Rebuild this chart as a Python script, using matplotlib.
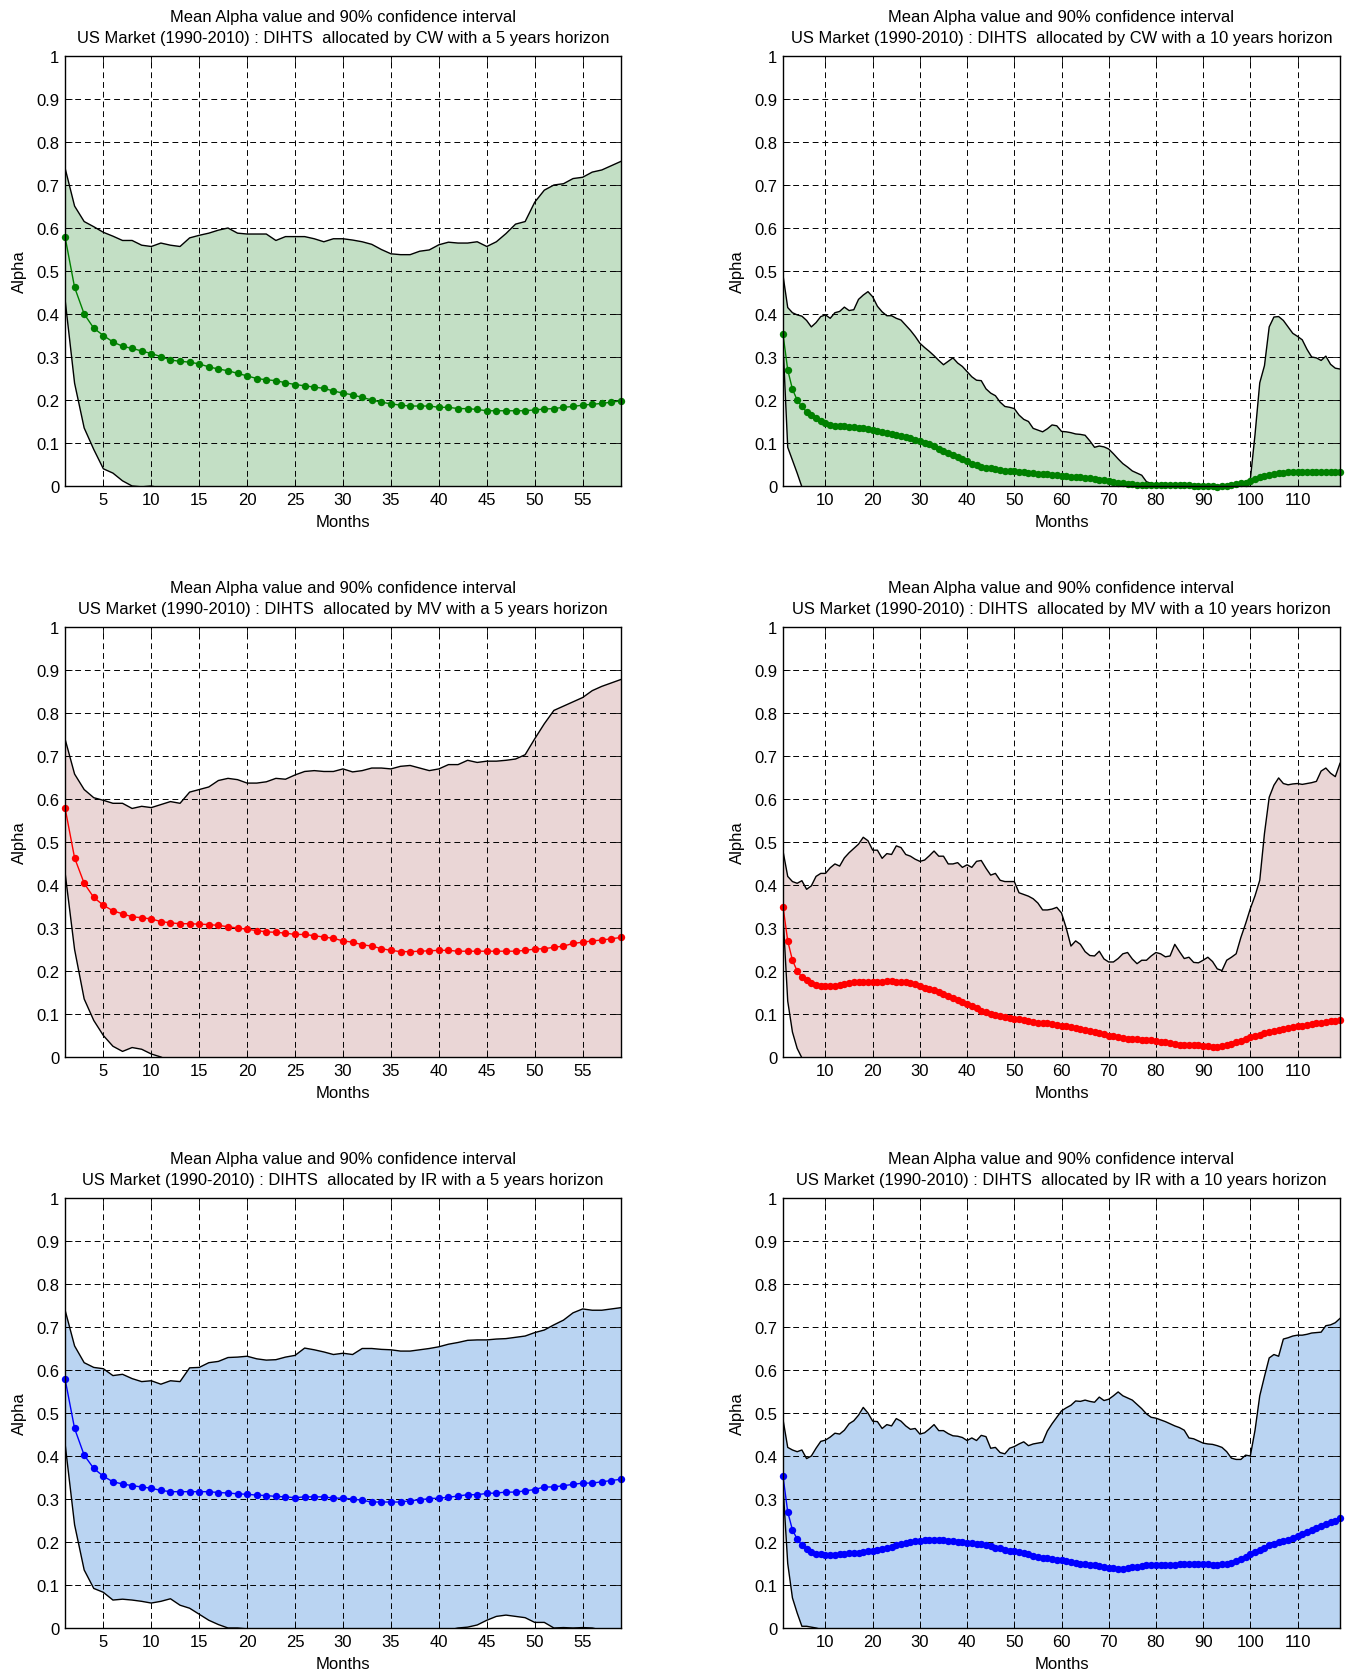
import matplotlib
matplotlib.use('Agg')
import matplotlib.pyplot as plt
import numpy as np

plt.rcParams['font.family'] = ['Liberation Sans', 'DejaVu Sans']

# ---------------- data ----------------
months_5y = list(range(1, 60))
months_10y = list(range(1, 120))
xticks_5y = [5, 10, 15, 20, 25, 30, 35, 40, 45, 50, 55]
xticks_10y = [10, 20, 30, 40, 50, 60, 70, 80, 90, 100, 110]
yticks = [0, 0.1, 0.2, 0.3, 0.4, 0.5, 0.6, 0.7, 0.8, 0.9, 1]
ytick_labels = ['0', '0.1', '0.2', '0.3', '0.4', '0.5', '0.6', '0.7', '0.8', '0.9', '1']

title_line1 = 'Mean Alpha value and 90% confidence interval'
titles_line2 = [
    'US Market (1990-2010) : DIHTS  allocated by CW with a 5 years horizon',
    'US Market (1990-2010) : DIHTS  allocated by CW with a 10 years horizon',
    'US Market (1990-2010) : DIHTS  allocated by MV with a 5 years horizon',
    'US Market (1990-2010) : DIHTS  allocated by MV with a 10 years horizon',
    'US Market (1990-2010) : DIHTS  allocated by IR with a 5 years horizon',
    'US Market (1990-2010) : DIHTS  allocated by IR with a 10 years horizon',
]

# ---- CW, 5 years ----
cw5_mean = [0.58, 0.462, 0.40, 0.367, 0.35, 0.335, 0.325, 0.32, 0.314, 0.308,
            0.301, 0.293, 0.29, 0.288, 0.284, 0.277, 0.272, 0.268, 0.262, 0.256,
            0.25, 0.247, 0.245, 0.24, 0.236, 0.233, 0.23, 0.227, 0.221, 0.216,
            0.212, 0.206, 0.2, 0.195, 0.191, 0.188, 0.186, 0.186, 0.186, 0.183,
            0.183, 0.18, 0.18, 0.178, 0.175, 0.175, 0.175, 0.175, 0.175, 0.177,
            0.179, 0.18, 0.183, 0.185, 0.188, 0.19, 0.192, 0.195, 0.198]
cw5_upper = [0.74, 0.651, 0.615, 0.603, 0.59, 0.581, 0.571, 0.571, 0.56, 0.557,
             0.565, 0.56, 0.557, 0.577, 0.583, 0.588, 0.595, 0.600, 0.588, 0.586,
             0.586, 0.586, 0.571, 0.58, 0.58, 0.58, 0.575, 0.568, 0.575, 0.575,
             0.572, 0.568, 0.562, 0.55, 0.54, 0.538, 0.538, 0.546, 0.549, 0.561,
             0.567, 0.565, 0.565, 0.568, 0.557, 0.568, 0.587, 0.609, 0.615, 0.66,
             0.688, 0.70, 0.703, 0.715, 0.718, 0.73, 0.735, 0.745, 0.755]
cw5_lower = [0.435, 0.239, 0.135, 0.085, 0.04, 0.03, 0.012, 0.0, -0.002, 0.0,
             -0.005, -0.02, -0.03, -0.04, -0.05, -0.05, -0.05, -0.05, -0.05, -0.05,
             -0.05, -0.05, -0.05, -0.05, -0.05, -0.05, -0.05, -0.05, -0.05, -0.05,
             -0.05, -0.05, -0.05, -0.05, -0.05, -0.05, -0.05, -0.05, -0.05, -0.05,
             -0.05, -0.05, -0.05, -0.05, -0.05, -0.05, -0.05, -0.05, -0.05, -0.05,
             -0.05, -0.05, -0.05, -0.05, -0.05, -0.05, -0.05, -0.05, -0.05]

# ---- MV, 5 years ----
mv5_mean = [0.58, 0.463, 0.404, 0.371, 0.353, 0.34, 0.333, 0.326, 0.324, 0.321,
            0.315, 0.312, 0.31, 0.31, 0.309, 0.308, 0.306, 0.303, 0.3, 0.297,
            0.294, 0.291, 0.29, 0.288, 0.285, 0.285, 0.282, 0.279, 0.276, 0.27,
            0.267, 0.261, 0.258, 0.252, 0.248, 0.245, 0.245, 0.246, 0.247, 0.248,
            0.248, 0.246, 0.246, 0.246, 0.246, 0.246, 0.246, 0.246, 0.248, 0.251,
            0.252, 0.255, 0.258, 0.264, 0.267, 0.27, 0.272, 0.275, 0.278]
mv5_upper = [0.74, 0.658, 0.622, 0.603, 0.597, 0.59, 0.59, 0.578, 0.583, 0.58,
             0.587, 0.594, 0.59, 0.616, 0.622, 0.628, 0.643, 0.648, 0.645, 0.637,
             0.637, 0.64, 0.648, 0.646, 0.656, 0.664, 0.666, 0.664, 0.664, 0.67,
             0.663, 0.666, 0.672, 0.672, 0.67, 0.676, 0.678, 0.672, 0.666, 0.67,
             0.68, 0.68, 0.69, 0.685, 0.688, 0.688, 0.69, 0.693, 0.703, 0.74,
             0.775, 0.806, 0.816, 0.826, 0.836, 0.852, 0.862, 0.87, 0.878]
mv5_lower = [0.43, 0.25, 0.135, 0.085, 0.05, 0.025, 0.013, 0.022, 0.018, 0.007,
             0.0, -0.01, -0.02, -0.03, -0.04, -0.05, -0.05, -0.05, -0.05, -0.05,
             -0.05, -0.05, -0.05, -0.05, -0.05, -0.05, -0.05, -0.05, -0.05, -0.05,
             -0.05, -0.05, -0.05, -0.05, -0.05, -0.05, -0.05, -0.05, -0.05, -0.05,
             -0.05, -0.05, -0.05, -0.05, -0.05, -0.05, -0.05, -0.05, -0.05, -0.05,
             -0.05, -0.05, -0.05, -0.05, -0.05, -0.05, -0.05, -0.05, -0.05]

# ---- IR, 5 years ----
ir5_mean = [0.58, 0.464, 0.402, 0.371, 0.353, 0.34, 0.335, 0.331, 0.328, 0.325,
            0.32, 0.317, 0.317, 0.317, 0.317, 0.317, 0.315, 0.314, 0.312, 0.311,
            0.309, 0.308, 0.306, 0.305, 0.303, 0.305, 0.305, 0.305, 0.302, 0.302,
            0.3, 0.297, 0.293, 0.293, 0.293, 0.293, 0.296, 0.298, 0.301, 0.302,
            0.304, 0.307, 0.31, 0.31, 0.313, 0.314, 0.316, 0.316, 0.319, 0.322,
            0.328, 0.328, 0.331, 0.334, 0.337, 0.337, 0.34, 0.343, 0.346]
ir5_upper = [0.74, 0.656, 0.617, 0.606, 0.603, 0.587, 0.59, 0.58, 0.573, 0.575,
             0.567, 0.575, 0.573, 0.605, 0.606, 0.617, 0.62, 0.629, 0.63, 0.632,
             0.626, 0.623, 0.624, 0.63, 0.634, 0.651, 0.647, 0.642, 0.636, 0.639,
             0.636, 0.65, 0.65, 0.648, 0.647, 0.644, 0.644, 0.647, 0.65, 0.654,
             0.66, 0.664, 0.669, 0.67, 0.67, 0.672, 0.673, 0.676, 0.679, 0.687,
             0.693, 0.705, 0.716, 0.733, 0.742, 0.739, 0.739, 0.742, 0.745]
ir5_lower = [0.43, 0.24, 0.135, 0.092, 0.083, 0.065, 0.067, 0.065, 0.062, 0.058,
             0.062, 0.068, 0.053, 0.046, 0.032, 0.018, 0.008, 0.0, 0.0, -0.002,
             -0.01, -0.01, -0.01, -0.01, -0.01, -0.01, -0.01, -0.01, -0.01, -0.01,
             -0.01, -0.01, -0.01, -0.01, -0.01, -0.01, -0.01, -0.01, -0.01, -0.01,
             -0.005, 0.0, 0.002, 0.007, 0.018, 0.027, 0.03, 0.027, 0.024, 0.013,
             0.013, 0.0, 0.001, 0.0, 0.001, 0.0, -0.005, -0.01, -0.01]

# ---- CW, 10 years ----
cw10_mean = [0.353, 0.27, 0.225, 0.2, 0.185, 0.172, 0.165, 0.158, 0.152, 0.147,
             0.143, 0.14, 0.139, 0.139, 0.138, 0.137, 0.135, 0.134, 0.132, 0.13,
             0.128, 0.126, 0.123, 0.12, 0.118, 0.116, 0.114, 0.111, 0.108, 0.104,
             0.1, 0.097, 0.092, 0.087, 0.082, 0.077, 0.073, 0.068, 0.062, 0.057,
             0.052, 0.048, 0.045, 0.043, 0.041, 0.039, 0.037, 0.035, 0.034, 0.034,
             0.033, 0.032, 0.031, 0.03, 0.029, 0.028, 0.027, 0.026, 0.025, 0.024,
             0.023, 0.022, 0.021, 0.02, 0.019, 0.018, 0.017, 0.015, 0.013, 0.011,
             0.009, 0.008, 0.006, 0.005, 0.004, 0.003, 0.002, 0.002, 0.002, 0.002,
             0.002, 0.002, 0.002, 0.002, 0.002, 0.002, 0.002, 0.001, 0.001, 0.001,
             0.0, -0.001, -0.002, -0.001, 0.001, 0.003, 0.005, 0.006, 0.008, 0.012,
             0.016, 0.02, 0.023, 0.026, 0.028, 0.03, 0.031, 0.033, 0.033, 0.033,
             0.033, 0.033, 0.033, 0.033, 0.033, 0.033, 0.033, 0.033, 0.033]
cw10_upper = [0.49, 0.415, 0.403, 0.398, 0.395, 0.385, 0.37, 0.38, 0.394, 0.398,
              0.39, 0.403, 0.406, 0.416, 0.408, 0.41, 0.434, 0.444, 0.452, 0.44,
              0.418, 0.405, 0.396, 0.396, 0.39, 0.386, 0.374, 0.362, 0.348, 0.332,
              0.322, 0.313, 0.303, 0.292, 0.282, 0.29, 0.298, 0.286, 0.278, 0.266,
              0.254, 0.246, 0.245, 0.226, 0.216, 0.21, 0.195, 0.185, 0.183, 0.18,
              0.165, 0.155, 0.15, 0.134, 0.13, 0.126, 0.133, 0.142, 0.14, 0.127,
              0.126, 0.124, 0.121, 0.12, 0.118, 0.105, 0.09, 0.093, 0.091, 0.086,
              0.075, 0.063, 0.052, 0.044, 0.035, 0.03, 0.025, 0.01, 0.006, 0.003,
              0.002, 0.002, 0.002, 0.002, 0.002, 0.002, 0.002, 0.002, 0.002, 0.002,
              0.001, 0.0, -0.001, 0.0, 0.002, 0.004, 0.006, 0.007, 0.008, 0.015,
              0.12, 0.24, 0.28, 0.37, 0.393, 0.394, 0.385, 0.37, 0.355, 0.348,
              0.34, 0.318, 0.3, 0.298, 0.292, 0.302, 0.283, 0.274, 0.272]
cw10_lower = [0.33, 0.09, 0.06, 0.03, -0.002, -0.02, -0.04, -0.05, -0.05, -0.05,
              -0.05, -0.05, -0.05, -0.05, -0.05, -0.05, -0.05, -0.05, -0.05, -0.05,
              -0.05, -0.05, -0.05, -0.05, -0.05, -0.05, -0.05, -0.05, -0.05, -0.05,
              -0.05, -0.05, -0.05, -0.05, -0.05, -0.05, -0.05, -0.05, -0.05, -0.05,
              -0.05, -0.05, -0.05, -0.05, -0.05, -0.05, -0.05, -0.05, -0.05, -0.05,
              -0.05, -0.05, -0.05, -0.05, -0.05, -0.05, -0.05, -0.05, -0.05, -0.05,
              -0.05, -0.05, -0.05, -0.05, -0.05, -0.05, -0.05, -0.05, -0.05, -0.05,
              -0.05, -0.05, -0.05, -0.05, -0.05, -0.05, -0.05, -0.05, -0.05, -0.05,
              -0.05, -0.05, -0.05, -0.05, -0.05, -0.05, -0.05, -0.05, -0.05, -0.05,
              -0.05, -0.05, -0.05, -0.05, -0.05, -0.05, -0.05, -0.05, -0.05, -0.05,
              -0.05, -0.05, -0.05, -0.05, -0.05, -0.05, -0.05, -0.05, -0.05, -0.05,
              -0.05, -0.05, -0.05, -0.05, -0.05, -0.05, -0.05, -0.05, -0.05]

# ---- MV, 10 years ----
mv10_mean = [0.35, 0.27, 0.225, 0.2, 0.186, 0.178, 0.172, 0.168, 0.166, 0.165,
             0.165, 0.165, 0.167, 0.17, 0.172, 0.174, 0.175, 0.175, 0.175, 0.175,
             0.175, 0.175, 0.176, 0.176, 0.175, 0.175, 0.174, 0.172, 0.169, 0.165,
             0.161, 0.158, 0.155, 0.151, 0.147, 0.142, 0.138, 0.133, 0.128, 0.124,
             0.118, 0.113, 0.108, 0.104, 0.101, 0.098, 0.096, 0.093, 0.091, 0.089,
             0.088, 0.086, 0.084, 0.082, 0.08, 0.079, 0.078, 0.077, 0.075, 0.073,
             0.071, 0.069, 0.067, 0.065, 0.063, 0.061, 0.058, 0.056, 0.053, 0.05,
             0.049, 0.047, 0.045, 0.043, 0.042, 0.041, 0.04, 0.04, 0.039, 0.038,
             0.036, 0.034, 0.032, 0.03, 0.029, 0.028, 0.027, 0.027, 0.027, 0.026,
             0.025, 0.024, 0.024, 0.025, 0.027, 0.03, 0.034, 0.038, 0.042, 0.046,
             0.049, 0.052, 0.055, 0.058, 0.061, 0.063, 0.066, 0.068, 0.07, 0.072,
             0.073, 0.075, 0.076, 0.078, 0.08, 0.081, 0.083, 0.084, 0.086]
mv10_upper = [0.479, 0.42, 0.408, 0.404, 0.41, 0.39, 0.398, 0.42, 0.427, 0.427,
              0.44, 0.449, 0.444, 0.463, 0.475, 0.485, 0.495, 0.511, 0.503, 0.481,
              0.481, 0.462, 0.473, 0.471, 0.491, 0.487, 0.471, 0.467, 0.46, 0.455,
              0.458, 0.468, 0.479, 0.467, 0.467, 0.449, 0.449, 0.452, 0.441, 0.447,
              0.441, 0.455, 0.457, 0.439, 0.423, 0.427, 0.411, 0.408, 0.408, 0.408,
              0.382, 0.378, 0.374, 0.368, 0.358, 0.342, 0.342, 0.344, 0.348, 0.335,
              0.3, 0.258, 0.27, 0.262, 0.245, 0.236, 0.235, 0.246, 0.228, 0.221,
              0.221, 0.229, 0.24, 0.243, 0.228, 0.217, 0.225, 0.225, 0.235, 0.243,
              0.24, 0.233, 0.235, 0.262, 0.245, 0.229, 0.232, 0.22, 0.219, 0.225,
              0.232, 0.222, 0.205, 0.201, 0.225, 0.232, 0.24, 0.278, 0.31, 0.345,
              0.375, 0.411, 0.52, 0.604, 0.632, 0.649, 0.636, 0.633, 0.635, 0.636,
              0.634, 0.636, 0.638, 0.641, 0.665, 0.672, 0.66, 0.652, 0.683]
mv10_lower = [0.33, 0.13, 0.058, 0.02, -0.002, -0.02, -0.04, -0.05, -0.05, -0.05,
              -0.05, -0.05, -0.05, -0.05, -0.05, -0.05, -0.05, -0.05, -0.05, -0.05,
              -0.05, -0.05, -0.05, -0.05, -0.05, -0.05, -0.05, -0.05, -0.05, -0.05,
              -0.05, -0.05, -0.05, -0.05, -0.05, -0.05, -0.05, -0.05, -0.05, -0.05,
              -0.05, -0.05, -0.05, -0.05, -0.05, -0.05, -0.05, -0.05, -0.05, -0.05,
              -0.05, -0.05, -0.05, -0.05, -0.05, -0.05, -0.05, -0.05, -0.05, -0.05,
              -0.05, -0.05, -0.05, -0.05, -0.05, -0.05, -0.05, -0.05, -0.05, -0.05,
              -0.05, -0.05, -0.05, -0.05, -0.05, -0.05, -0.05, -0.05, -0.05, -0.05,
              -0.05, -0.05, -0.05, -0.05, -0.05, -0.05, -0.05, -0.05, -0.05, -0.05,
              -0.05, -0.05, -0.05, -0.05, -0.05, -0.05, -0.05, -0.05, -0.05, -0.05,
              -0.05, -0.05, -0.05, -0.05, -0.05, -0.05, -0.05, -0.05, -0.05, -0.05,
              -0.05, -0.05, -0.05, -0.05, -0.05, -0.05, -0.05, -0.05, -0.05]

# ---- IR, 10 years ----
ir10_mean = [0.353, 0.27, 0.228, 0.207, 0.193, 0.183, 0.177, 0.173, 0.171, 0.17,
             0.17, 0.17, 0.172, 0.173, 0.174, 0.175, 0.175, 0.177, 0.178, 0.179,
             0.181, 0.184, 0.187, 0.189, 0.192, 0.195, 0.198, 0.2, 0.202, 0.203,
             0.204, 0.205, 0.205, 0.205, 0.204, 0.203, 0.202, 0.2, 0.199, 0.198,
             0.197, 0.196, 0.195, 0.193, 0.19, 0.187, 0.185, 0.182, 0.18, 0.178,
             0.176, 0.174, 0.171, 0.168, 0.165, 0.163, 0.162, 0.161, 0.159, 0.157,
             0.155, 0.153, 0.152, 0.15, 0.149, 0.147, 0.146, 0.144, 0.142, 0.14,
             0.139, 0.138, 0.138, 0.139, 0.141, 0.143, 0.145, 0.146, 0.147, 0.147,
             0.147, 0.147, 0.147, 0.147, 0.148, 0.149, 0.148, 0.148, 0.148, 0.149,
             0.148, 0.147, 0.147, 0.148, 0.15, 0.152, 0.155, 0.16, 0.166, 0.172,
             0.177, 0.182, 0.187, 0.192, 0.196, 0.199, 0.202, 0.205, 0.209, 0.214,
             0.219, 0.224, 0.229, 0.233, 0.237, 0.242, 0.246, 0.25, 0.256]
ir10_upper = [0.485, 0.42, 0.414, 0.41, 0.414, 0.394, 0.4, 0.418, 0.434, 0.437,
              0.444, 0.453, 0.451, 0.46, 0.475, 0.482, 0.495, 0.513, 0.5, 0.481,
              0.48, 0.464, 0.473, 0.47, 0.487, 0.481, 0.47, 0.462, 0.464, 0.451,
              0.454, 0.463, 0.473, 0.459, 0.459, 0.452, 0.447, 0.446, 0.443, 0.436,
              0.442, 0.436, 0.448, 0.445, 0.418, 0.42, 0.408, 0.405, 0.418, 0.422,
              0.428, 0.433, 0.424, 0.428, 0.43, 0.432, 0.458, 0.475, 0.49, 0.505,
              0.512, 0.518, 0.528, 0.527, 0.53, 0.527, 0.525, 0.537, 0.529, 0.532,
              0.54, 0.549, 0.54, 0.535, 0.53, 0.52, 0.51, 0.498, 0.49, 0.488,
              0.484, 0.48, 0.475, 0.47, 0.466, 0.46, 0.442, 0.44, 0.435, 0.43,
              0.428, 0.427, 0.424, 0.42, 0.41, 0.395, 0.392, 0.392, 0.402, 0.4,
              0.46, 0.54, 0.585, 0.628, 0.636, 0.632, 0.672, 0.675, 0.679, 0.681,
              0.681, 0.683, 0.686, 0.687, 0.688, 0.703, 0.705, 0.71, 0.72]
ir10_lower = [0.33, 0.15, 0.07, 0.035, 0.004, 0.004, 0.002, 0.0, -0.003, -0.01,
              -0.02, -0.03, -0.04, -0.05, -0.05, -0.05, -0.05, -0.05, -0.05, -0.05,
              -0.05, -0.05, -0.05, -0.05, -0.05, -0.05, -0.05, -0.05, -0.05, -0.05,
              -0.05, -0.05, -0.05, -0.05, -0.05, -0.05, -0.05, -0.05, -0.05, -0.05,
              -0.05, -0.05, -0.05, -0.05, -0.05, -0.05, -0.05, -0.05, -0.05, -0.05,
              -0.05, -0.05, -0.05, -0.05, -0.05, -0.05, -0.05, -0.05, -0.05, -0.05,
              -0.05, -0.05, -0.05, -0.05, -0.05, -0.05, -0.05, -0.05, -0.05, -0.05,
              -0.05, -0.05, -0.05, -0.05, -0.05, -0.05, -0.05, -0.05, -0.05, -0.05,
              -0.05, -0.05, -0.05, -0.05, -0.05, -0.05, -0.05, -0.05, -0.05, -0.05,
              -0.05, -0.05, -0.05, -0.05, -0.05, -0.05, -0.05, -0.05, -0.05, -0.05,
              -0.05, -0.05, -0.05, -0.05, -0.05, -0.05, -0.05, -0.05, -0.05, -0.05,
              -0.05, -0.05, -0.05, -0.05, -0.05, -0.05, -0.05, -0.05, -0.05]

# ---------------- styling ----------------
line_colors = {'CW': '#008000', 'MV': '#ff0000', 'IR': '#0000ff'}
fill_colors = {'CW': '#c3dfc5', 'MV': '#ead6d6', 'IR': '#bad4f2'}

W, H = 1352, 1674
fig = plt.figure(figsize=(W / 100, H / 100), dpi=100)

col_left = [65, 783]
col_width = [556, 557]
row_top = [57, 628, 1199]
row_height = 430


def pos(r, c):
    l = col_left[c] / W
    b = (H - row_top[r] - row_height) / H
    return [l, b, col_width[c] / W, row_height / H]


panels = [
    (0, 0, 'CW', months_5y, cw5_mean, cw5_lower, cw5_upper, xticks_5y),
    (0, 1, 'CW', months_10y, cw10_mean, cw10_lower, cw10_upper, xticks_10y),
    (1, 0, 'MV', months_5y, mv5_mean, mv5_lower, mv5_upper, xticks_5y),
    (1, 1, 'MV', months_10y, mv10_mean, mv10_lower, mv10_upper, xticks_10y),
    (2, 0, 'IR', months_5y, ir5_mean, ir5_lower, ir5_upper, xticks_5y),
    (2, 1, 'IR', months_10y, ir10_mean, ir10_lower, ir10_upper, xticks_10y),
]

for i, (r, c, key, x, mean, lo, hi, xt) in enumerate(panels):
    assert len(x) == len(mean) == len(lo) == len(hi)
    ax = fig.add_axes(pos(r, c))
    ax.fill_between(x, lo, hi, facecolor=fill_colors[key], edgecolor='none', zorder=1)
    ax.plot(x, hi, color='k', lw=1.0, zorder=3)
    ax.plot(x, lo, color='k', lw=1.0, zorder=3)
    ax.plot(x, mean, color=line_colors[key], lw=1.0, marker='o', ms=5.3,
            markeredgewidth=0, zorder=4, clip_on=False)
    ax.set_xlim(x[0], x[-1])
    ax.set_ylim(0, 1)
    ax.set_xticks(xt)
    ax.set_yticks(yticks)
    ax.set_yticklabels(ytick_labels)
    ax.set_axisbelow(False)
    ax.grid(True, color='k', linestyle=(0, (6, 4)), linewidth=0.7)
    ax.tick_params(direction='in', top=True, right=True, length=5, width=0.6,
                   labelsize=12, pad=4)
    for s in ax.spines.values():
        s.set_linewidth(1.0)
        s.set_zorder(5)
    ax.set_title(title_line1 + '\n' + titles_line2[i], fontsize=11.9, pad=10,
                 linespacing=1.5)
    ax.set_xlabel('Months', fontsize=12, labelpad=5.5)
    ax.set_ylabel('Alpha', fontsize=12, labelpad=6.5)

fig.savefig('out.png', dpi=100)
